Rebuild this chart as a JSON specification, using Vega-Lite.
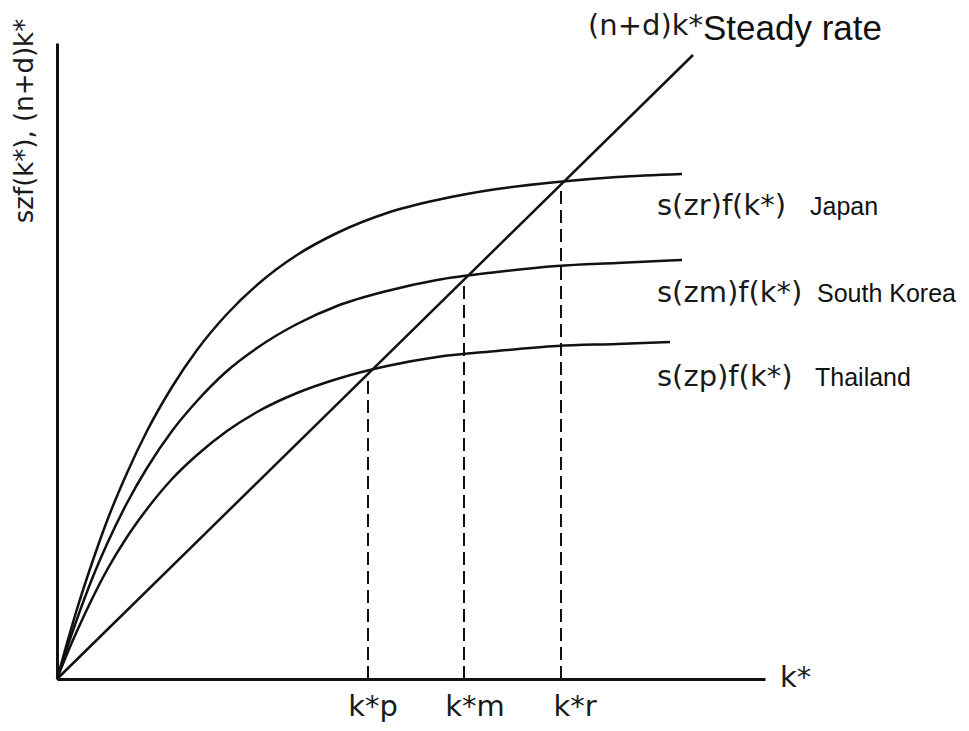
{
  "$schema": "https://vega.github.io/schema/vega-lite/v6.json",
  "width": 708,
  "height": 636,
  "autosize": {"type": "none"},
  "padding": {"left": 57, "top": 43, "right": 204, "bottom": 52},
  "background": "white",
  "config": {"view": {"stroke": null}},
  "datasets": {
    "curves": [
      {"country": "Japan", "k": 0, "v": 0}, {"country": "Japan", "k": 10, "v": 36}, {"country": "Japan", "k": 20, "v": 70}, {"country": "Japan", "k": 35, "v": 116}, {"country": "Japan", "k": 50, "v": 158}, {"country": "Japan", "k": 70, "v": 206}, {"country": "Japan", "k": 90, "v": 248}, {"country": "Japan", "k": 115, "v": 292}, {"country": "Japan", "k": 140, "v": 329}, {"country": "Japan", "k": 170, "v": 365}, {"country": "Japan", "k": 200, "v": 394}, {"country": "Japan", "k": 240, "v": 424}, {"country": "Japan", "k": 280, "v": 446}, {"country": "Japan", "k": 330, "v": 466}, {"country": "Japan", "k": 380, "v": 479}, {"country": "Japan", "k": 440, "v": 490}, {"country": "Japan", "k": 500, "v": 497}, {"country": "Japan", "k": 560, "v": 502}, {"country": "Japan", "k": 625, "v": 505},
      {"country": "South Korea", "k": 0, "v": 0}, {"country": "South Korea", "k": 10, "v": 31}, {"country": "South Korea", "k": 20, "v": 60}, {"country": "South Korea", "k": 35, "v": 100}, {"country": "South Korea", "k": 50, "v": 135}, {"country": "South Korea", "k": 70, "v": 176}, {"country": "South Korea", "k": 90, "v": 211}, {"country": "South Korea", "k": 115, "v": 248}, {"country": "South Korea", "k": 140, "v": 278}, {"country": "South Korea", "k": 170, "v": 308}, {"country": "South Korea", "k": 200, "v": 331}, {"country": "South Korea", "k": 240, "v": 355}, {"country": "South Korea", "k": 280, "v": 373}, {"country": "South Korea", "k": 330, "v": 388}, {"country": "South Korea", "k": 380, "v": 399}, {"country": "South Korea", "k": 440, "v": 407}, {"country": "South Korea", "k": 500, "v": 413}, {"country": "South Korea", "k": 560, "v": 416}, {"country": "South Korea", "k": 625, "v": 419},
      {"country": "Thailand", "k": 0, "v": 0}, {"country": "Thailand", "k": 10, "v": 25}, {"country": "Thailand", "k": 20, "v": 48}, {"country": "Thailand", "k": 35, "v": 80}, {"country": "Thailand", "k": 50, "v": 109}, {"country": "Thailand", "k": 70, "v": 142}, {"country": "Thailand", "k": 90, "v": 170}, {"country": "Thailand", "k": 115, "v": 200}, {"country": "Thailand", "k": 140, "v": 224}, {"country": "Thailand", "k": 170, "v": 248}, {"country": "Thailand", "k": 200, "v": 267}, {"country": "Thailand", "k": 240, "v": 286}, {"country": "Thailand", "k": 280, "v": 300}, {"country": "Thailand", "k": 330, "v": 313}, {"country": "Thailand", "k": 380, "v": 322}, {"country": "Thailand", "k": 440, "v": 328}, {"country": "Thailand", "k": 500, "v": 333}, {"country": "Thailand", "k": 560, "v": 335}, {"country": "Thailand", "k": 613, "v": 337}
    ],
    "steady": [{"k": 0, "v": 0}, {"k": 636, "v": 624}],
    "equilibria": [
      {"name": "k*p", "k": 311, "base": 0, "v": 305},
      {"name": "k*m", "k": 407, "base": 0, "v": 399},
      {"name": "k*r", "k": 504, "base": 0, "v": 494}
    ],
    "mathLabels": [
      {"text": "(n+d)k*", "x": 531, "y": 644},
      {"text": "s(zr)f(k*)", "x": 600, "y": 464},
      {"text": "s(zm)f(k*)", "x": 600, "y": 377},
      {"text": "s(zp)f(k*)", "x": 600, "y": 293},
      {"text": "k*", "x": 723, "y": -8}
    ],
    "tickLabels": [
      {"text": "k*p", "x": 316, "y": -37},
      {"text": "k*m", "x": 418, "y": -37},
      {"text": "k*r", "x": 518, "y": -37}
    ],
    "countryLabels": [
      {"text": "Japan", "x": 753, "y": 464},
      {"text": "South Korea", "x": 760, "y": 377},
      {"text": "Thailand", "x": 758, "y": 293}
    ],
    "bigLabel": [{"text": "Steady rate", "x": 646, "y": 639}],
    "yTitle": [{"text": "szf(k*), (n+d)k*", "x": -32, "y": 558}]
  },
  "layer": [
    {
      "data": {"name": "curves"},
      "mark": {"type": "line", "color": "#111", "strokeWidth": 2.5, "interpolate": "monotone", "clip": false},
      "encoding": {
        "x": {"field": "k", "type": "quantitative", "scale": {"domain": [0, 708], "nice": false, "zero": false},
              "axis": {"domain": true, "domainColor": "#111", "domainWidth": 3, "ticks": false, "labels": false, "grid": false, "title": null}},
        "y": {"field": "v", "type": "quantitative", "scale": {"domain": [0, 636], "nice": false, "zero": false},
              "axis": {"domain": true, "domainColor": "#111", "domainWidth": 3, "ticks": false, "labels": false, "grid": false, "title": null}},
        "detail": {"field": "country", "type": "nominal"}
      }
    },
    {
      "data": {"name": "steady"},
      "mark": {"type": "line", "color": "#111", "strokeWidth": 2.5, "clip": false},
      "encoding": {
        "x": {"field": "k", "type": "quantitative"},
        "y": {"field": "v", "type": "quantitative"}
      }
    },
    {
      "data": {"name": "equilibria"},
      "mark": {"type": "rule", "color": "#111", "strokeWidth": 2, "strokeDash": [13, 6]},
      "encoding": {
        "x": {"field": "k", "type": "quantitative"},
        "y": {"field": "base", "type": "quantitative"},
        "y2": {"field": "v"}
      }
    },
    {
      "data": {"name": "mathLabels"},
      "mark": {"type": "text", "font": "DejaVu Sans", "fontSize": 29, "align": "left", "baseline": "alphabetic", "color": "#1a1a1a"},
      "encoding": {
        "x": {"field": "x", "type": "quantitative"},
        "y": {"field": "y", "type": "quantitative"},
        "text": {"field": "text", "type": "nominal"}
      }
    },
    {
      "data": {"name": "tickLabels"},
      "mark": {"type": "text", "font": "DejaVu Sans", "fontSize": 29, "align": "center", "baseline": "alphabetic", "color": "#1a1a1a"},
      "encoding": {
        "x": {"field": "x", "type": "quantitative"},
        "y": {"field": "y", "type": "quantitative"},
        "text": {"field": "text", "type": "nominal"}
      }
    },
    {
      "data": {"name": "countryLabels"},
      "mark": {"type": "text", "font": "Liberation Sans", "fontSize": 25, "align": "left", "baseline": "alphabetic", "color": "#111"},
      "encoding": {
        "x": {"field": "x", "type": "quantitative"},
        "y": {"field": "y", "type": "quantitative"},
        "text": {"field": "text", "type": "nominal"}
      }
    },
    {
      "data": {"name": "bigLabel"},
      "mark": {"type": "text", "font": "Liberation Sans", "fontSize": 35, "align": "left", "baseline": "alphabetic", "color": "#111"},
      "encoding": {
        "x": {"field": "x", "type": "quantitative"},
        "y": {"field": "y", "type": "quantitative"},
        "text": {"field": "text", "type": "nominal"}
      }
    },
    {
      "data": {"name": "yTitle"},
      "mark": {"type": "text", "font": "DejaVu Sans", "fontSize": 26, "align": "center", "baseline": "middle", "angle": 270, "color": "#1a1a1a"},
      "encoding": {
        "x": {"field": "x", "type": "quantitative"},
        "y": {"field": "y", "type": "quantitative"},
        "text": {"field": "text", "type": "nominal"}
      }
    }
  ]
}
